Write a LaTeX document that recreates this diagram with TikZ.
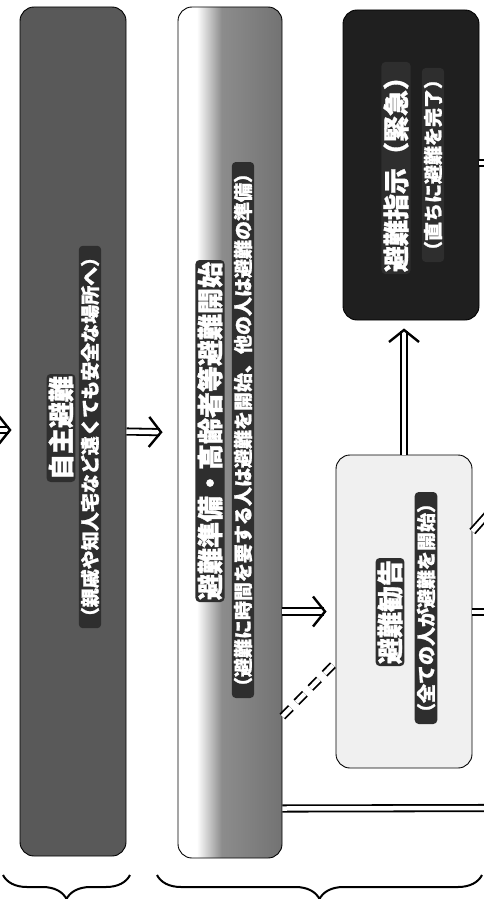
\documentclass[tikz,border=0pt]{standalone}
\usepackage{fontspec}
\usepackage{tikz}
\usetikzlibrary{arrows.meta,calc,decorations.pathreplacing}
\newfontfamily\jp{Noto Sans CJK JP}[BoldFeatures={FakeBold=1.2}]
\pgfdeclarehorizontalshading{junbishade}{100bp}{color(0bp)=(white); color(34bp)=(white); color(46bp)=(black!45); color(75bp)=(black!55); color(100bp)=(black!55)}

\begin{document}
\begin{tikzpicture}[x=1pt, y=-1pt,
    box/.style={draw, line width=0.9pt, rounded corners=14pt},
    title/.style={rotate=90, text=white, fill=black!82, rounded corners=4pt, inner sep=2pt, font=\jp\bfseries\fontsize{26}{26}\selectfont},
    note/.style={title, font=\jp\bfseries\fontsize{19}{19}\selectfont},
    dbl/.style={double, line width=1.8pt, double distance=4.5pt},
    dblarrow/.style={dbl, -{Straight Barb[length=12pt, width=30pt, line width=2.4pt]}},
    groupbrace/.style={decorate, decoration={brace, amplitude=24pt}, line width=2pt}]
    \useasboundingbox (0,0) rectangle (484,899);
    % Boxes
    \node[box, fill=black!65, minimum width=106pt, minimum height=849pt] (jishu) at (73,431.5) {};
    \node[box, shading=junbishade, minimum width=104pt, minimum height=851pt] (junbi) at (230,432.5) {};
    \node[box, fill=black!88, minimum width=136pt, minimum height=310pt] (shiji) at (411,165) {};
    \node[box, fill=black!6, minimum width=136pt, minimum height=313pt] (kankoku) at (404,611.5) {};
    % Labels
    \node[title] (jishu-t) at (61,428) {自主避難};
    \node[note] (jishu-n) at (90,437) {（親戚や知人宅など遠くても安全な場所へ）};
    \node[title] (junbi-t) at (210,431) {避難準備・高齢者等避難開始};
    \node[note] (junbi-n) at (243,430) {（避難に時間を要する人は避難を開始、他の人は避難の準備）};
    \node[title] (shiji-t) at (396,168) {避難指示（緊急）};
    \node[note] (shiji-n) at (433,165) {（直ちに避難を完了）};
    \node[title] (kankoku-t) at (390,612) {避難勧告};
    \node[note] (kankoku-n) at (426,608) {（全ての人が避難を開始）};
    % Arrows
    \coordinate (in) at (-30,430);
    \draw[dblarrow, shorten >=8pt] (in) -- (in -| jishu.west);
    \draw[dblarrow, shorten >=15pt] (jishu.east) -- (junbi.west);
    \draw[dblarrow, shorten >=9pt] (junbi.east |- kankoku.west) -- (kankoku.west);
    \draw[dblarrow, shorten >=8pt] (kankoku.north) -- (kankoku.north |- shiji.south);
    \draw[dbl, dashed, dash pattern=on 12pt off 8pt] ($(junbi.east)+(0,284)$) -- ($(kankoku.west)+(0,51)$);
    % Lines out
    \coordinate (out1) at (495,163);
    \coordinate (out2) at (495,612);
    \coordinate (out3) at (496,505);
    \coordinate (out4) at (495,808);
    \draw[dbl] (shiji.east |- out1) -- (out1);
    \draw[dbl] (kankoku.east |- out2) -- (out2);
    \draw[dbl] ($(kankoku.east)+(0,-80)$) -- (out3);
    \draw[dbl] ($(junbi.east)+(0,376)$) -- (out4);
    % Braces
    \draw[groupbrace] (130,875) -- (3,875);
    \draw[groupbrace] (482,875) -- (157,875);
\end{tikzpicture}
\end{document}
